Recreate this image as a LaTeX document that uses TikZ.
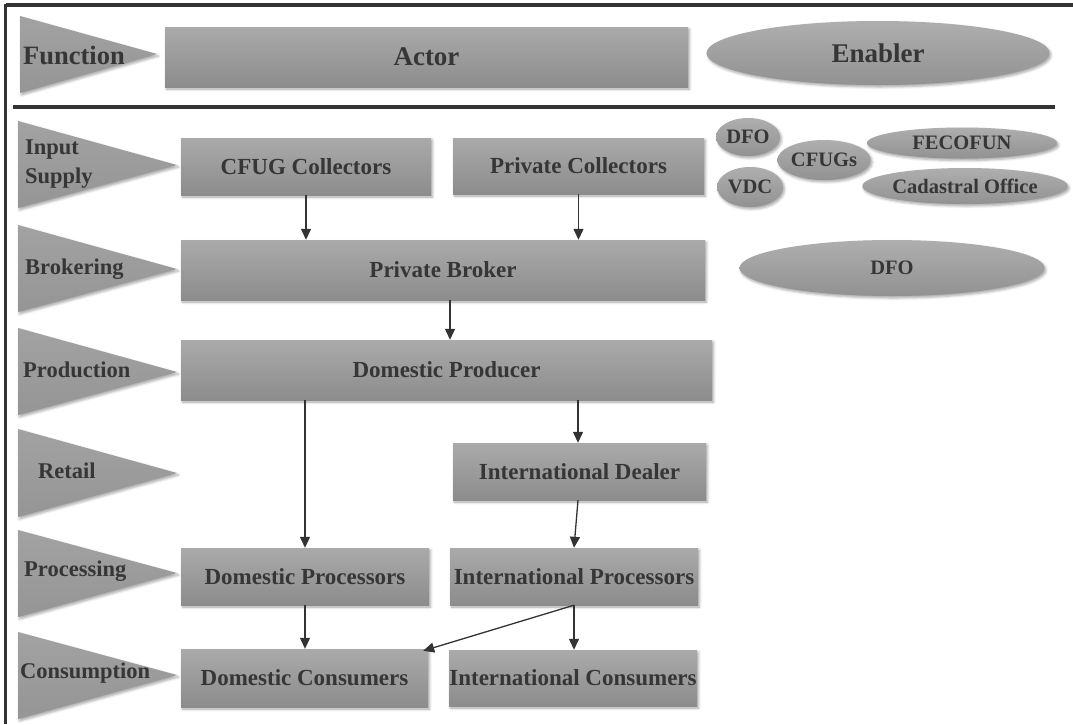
\documentclass[tikz,border=0pt]{standalone}
\usepackage{fontspec}
\setmainfont{Liberation Serif}
\usetikzlibrary{arrows.meta,shapes.geometric,shadows.blur}
\definecolor{inkgray}{HTML}{363636}
\definecolor{linegray}{HTML}{333333}
\definecolor{boxtop}{HTML}{AAAAAA}
\definecolor{boxbot}{HTML}{8C8C8C}
\definecolor{tritop}{HTML}{A2A2A2}
\definecolor{tribot}{HTML}{959595}
\tikzset{
  softshadow/.style={blur shadow={shadow xshift=1.5pt,shadow yshift=-2pt,shadow blur radius=2.5pt,shadow opacity=35}},
  actorbox/.style={rectangle,draw=none,top color=boxtop,bottom color=boxbot,softshadow,
    text=inkgray,font=\bfseries\fontsize{23}{27}\selectfont,inner sep=0pt},
  enabler/.style={ellipse,draw=none,top color=boxtop!95,bottom color=boxbot!95,softshadow,
    text=inkgray,font=\bfseries\fontsize{20.5}{24}\selectfont,inner sep=0pt},
  stage/.style={top color=tritop,bottom color=tribot,draw=none,softshadow},
  stagelabel/.style={text=inkgray,font=\bfseries\fontsize{22.5}{29}\selectfont,anchor=west,align=left,inner sep=0pt},
  flow/.style={draw=linegray,line width=1.3pt,-{Triangle[length=11pt,width=10pt]}},
  frameline/.style={draw=linegray,line width=3.5pt},
}
\begin{document}
\begin{tikzpicture}[x=1pt,y=-1pt]
\useasboundingbox (0,0) rectangle (1073,724);

% frame and header separator
\draw[frameline] (5.5,5) -- (1073,5);
\draw[frameline] (5.5,3.5) -- (5.5,724);
\draw[frameline,line width=4pt] (13,107) -- (1055,107);

% header row
\path[stage] (20,16) -- (157,54) -- (20,93) -- cycle;
\node[stagelabel,font=\bfseries\fontsize{26.5}{30}\selectfont] (hfunc) at (23,55) {Function};
\node[actorbox,minimum width=523,minimum height=60,font=\bfseries\fontsize{27}{30}\selectfont] (hactor) at (426.5,57) {Actor};
\node[enabler,minimum width=343,minimum height=64,font=\bfseries\fontsize{27}{30}\selectfont] (henabler) at (878,53) {Enabler};

% stage arrows on the left
\path[stage] (18,121) -- (177,165) -- (18,208) -- cycle;
\path[stage] (18,225) -- (177,269) -- (18,312) -- cycle;
\path[stage] (18,328) -- (177,372) -- (18,415) -- cycle;
\path[stage] (18,429) -- (177,473) -- (18,517) -- cycle;
\path[stage] (18,530) -- (177,573) -- (18,617) -- cycle;
\path[stage] (18,632) -- (177,675) -- (18,719) -- cycle;

\node[stagelabel] (sinput) at (25,164) {Input\\Supply};
\node[stagelabel] (sbroker) at (25,269) {Brokering};
\node[stagelabel] (sprod) at (23,370) {Production};
\node[stagelabel] (sretail) at (38,471) {Retail};
\node[stagelabel] (sproc) at (24,571) {Processing};
\node[stagelabel] (scons) at (20,673) {Consumption};

% actors
\node[actorbox,minimum width=250,minimum height=57] (cfug) at (306,166.5) {CFUG Collectors};
\node[actorbox,minimum width=251,minimum height=56] (pcoll) at (578.5,166) {Private Collectors};
\node[actorbox,minimum width=524,minimum height=60] (broker) at (443,270) {Private Broker};
\node[actorbox,minimum width=531,minimum height=60] (producer) at (446.5,370) {Domestic Producer};
\node[actorbox,minimum width=253,minimum height=57] (dealer) at (579.5,471.5) {International Dealer};
\node[actorbox,minimum width=248,minimum height=57] (domproc) at (305,576.5) {Domestic Processors};
\node[actorbox,minimum width=248,minimum height=57] (intproc) at (574,576.5) {International Processors};
\node[actorbox,minimum width=247,minimum height=58] (domcons) at (304.5,678) {Domestic Consumers};
\node[actorbox,minimum width=248,minimum height=56] (intcons) at (573,678) {International Consumers};

% enablers
\node[enabler,minimum width=64,minimum height=38] (edfo) at (748,137) {DFO};
\node[enabler,minimum width=66,minimum height=40] (evdc) at (750,187) {VDC};
\node[enabler,minimum width=66,minimum height=40] (ecfugs) at (824,160) {CFUGs};
\node[enabler,minimum width=190,minimum height=31] (efecofun) at (962,143) {FECOFUN};
\node[enabler,minimum width=191,minimum height=36] (ecadastral) at (965,186) {Cadastral Office};
\node[enabler,minimum width=305,minimum height=56] (edfobig) at (892,268) {DFO};

% flows between actors
\draw[flow] (cfug.south) -- (cfug.south |- broker.north);
\draw[flow] (pcoll.south) -- (pcoll.south |- broker.north);
\draw[flow] ([xshift=7pt]broker.south) -- ([xshift=7pt]broker.south |- producer.north);
\draw[flow] (domproc.north |- producer.south) -- (domproc.north);
\draw[flow] ([xshift=-1.5pt]dealer.north |- producer.south) -- ([xshift=-1.5pt]dealer.north);
\draw[flow] ([xshift=-1.5pt]dealer.south) -- (intproc.north);
\draw[flow] (domproc.south) -- (domproc.south |- domcons.north);
\draw[flow] (intproc.south) -- (intproc.south |- intcons.north);
\draw[flow] (intproc.south) -- ([xshift=-5pt,yshift=-2pt]domcons.north east);
\end{tikzpicture}
\end{document}
